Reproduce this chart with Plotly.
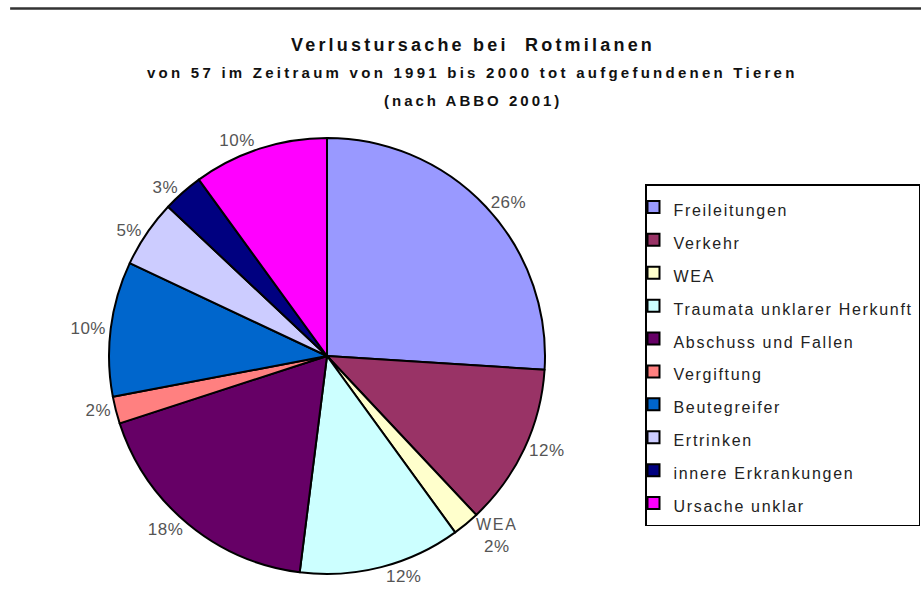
import plotly.graph_objects as go

# ---- data ----
categories = [
    "Freileitungen",
    "Verkehr",
    "WEA",
    "Traumata unklarer Herkunft",
    "Abschuss und Fallen",
    "Vergiftung",
    "Beutegreifer",
    "Ertrinken",
    "innere Erkrankungen",
    "Ursache unklar",
]
percent_values = [26, 12, 2, 12, 18, 2, 10, 5, 3, 10]
slice_colors = [
    "#9999FF", "#993366", "#FFFFCC", "#CCFFFF", "#660066",
    "#FF8080", "#0066CC", "#CCCCFF", "#000080", "#FF00FF",
]
label_with_name = ["WEA"]  # slices whose outside label also shows the category name

title_line1 = "Verlustursache bei  Rotmilanen"
title_line2 = "von 57 im Zeitraum von 1991 bis 2000 tot aufgefundenen Tieren"
title_line3 = "(nach ABBO 2001)"

FONT = "Liberation Sans, Arial, sans-serif"

def spaced(txt, ls=2, size=None):
    style = f"letter-spacing:{ls}px"
    if size:
        style += f";font-size:{size}px"
    return f"<span style='{style}'>{txt}</span>"

templates = [
    spaced("%{label}<br>%{percent}", 0.5) if c in label_with_name else spaced("%{percent}", 0.5)
    for c in categories
]
legend_names = [spaced(c, 1.7, 16) for c in categories]

W, H = 921, 615
cx, cy, r = 327, 356, 218

fig = go.Figure(
    go.Pie(
        labels=legend_names,
        values=percent_values,
        sort=False,
        direction="clockwise",
        rotation=0,
        marker=dict(colors=slice_colors, line=dict(color="black", width=2)),
        texttemplate=templates,
        textposition="outside",
        textfont=dict(family=FONT, size=17, color="#555555"),
        hoverinfo="label+percent",
        domain=dict(x=[(cx - r) / W, (cx + r) / W], y=[(H - cy - r) / H, (H - cy + r) / H]),
    )
)

fig.update_layout(
    width=W,
    height=H,
    margin=dict(l=0, r=0, t=0, b=0),
    paper_bgcolor="white",
    plot_bgcolor="white",
    font=dict(family=FONT, color="#222222"),
    title=dict(
        text="<b>" + spaced(title_line1, 3.2) + "</b>",
        x=473 / W, xanchor="center", y=1 - 45 / H, yanchor="middle",
        font=dict(family=FONT, size=18, color="#111111"),
    ),
    annotations=[
        dict(text="<b>" + spaced(title_line2, 3.25) + "</b>", x=472 / W, y=1 - 72 / H,
             xref="paper", yref="paper", showarrow=False,
             font=dict(family=FONT, size=15, color="#111111"), xanchor="center", yanchor="middle"),
        dict(text="<b>" + spaced(title_line3, 3) + "</b>", x=473 / W, y=1 - 100 / H,
             xref="paper", yref="paper", showarrow=False,
             font=dict(family=FONT, size=15, color="#111111"), xanchor="center", yanchor="middle"),
    ],
    shapes=[
        dict(type="line", xref="paper", yref="paper", x0=0.011, x1=1.0,
             y0=1 - 8.5 / H, y1=1 - 8.5 / H, line=dict(color="#333333", width=2.5)),
    ],
    legend=dict(
        x=645 / W, xanchor="left", y=1 - 184 / H, yanchor="top",
        bordercolor="black", borderwidth=1.5, bgcolor="white",
        font=dict(family=FONT, size=23, color="#222222"),
        indentation=-13,
    ),
    showlegend=True,
)

fig.write_html(
    "out.html",
    config={"displayModeBar": False},
    post_script="document.body.style.margin='0';",
)
